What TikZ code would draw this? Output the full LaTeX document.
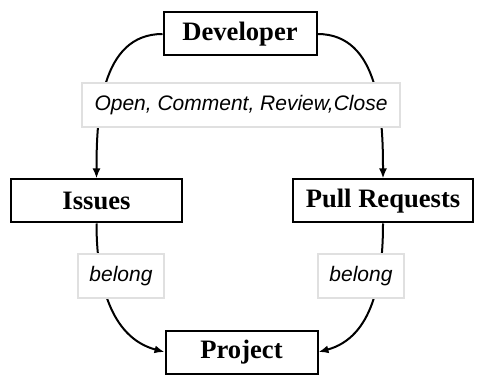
\documentclass[tikz,border=0pt]{standalone}
\usepackage{fontspec}
\setmainfont{Liberation Serif}
\newfontfamily\tagfont{Liberation Sans}
\usetikzlibrary{arrows.meta}

\begin{document}
\begin{tikzpicture}[x=0.5pt, y=0.5pt, line width=1pt,
    entity/.style={draw, fill=white, minimum height=21.5pt, inner sep=0pt,
        font=\fontsize{13.3}{16}\selectfont\bfseries},
    tag/.style={draw=black!12, fill=white, minimum height=22pt, inner sep=0pt,
        font=\fontsize{10.5}{12.6}\selectfont\tagfont\itshape},
    link/.style={-{Latex[length=5pt,width=4pt]}}]

\useasboundingbox (0,0) rectangle (480,374);

% entities
\node[entity, minimum width=76.5pt] (dev)     at (240,340)   {Developer};
\node[entity, minimum width=85.5pt] (issues)  at (96.5,173)  {Issues};
\node[entity, minimum width=90pt]   (pr)      at (383,173)   {Pull Requests};
\node[entity, minimum width=76pt]   (project) at (241.5,22)  {Project};

% connectors
\draw[link] (dev.west) to[out=180, in=90] (issues.north);
\draw[link] (dev.east) to[out=0, in=90] (pr.north);
\draw[link] (issues.south) to[out=-90, in=165] (project.west);
\draw[link] (pr.south) to[out=-90, in=15] (project.east);

% labels
\node[tag, minimum width=159pt] (actions) at (241,269) {Open, Comment, Review,Close};
\node[tag, minimum width=43pt]  (belongl) at (121,98)  {belong};
\node[tag, minimum width=43pt]  (belongr) at (361,98)  {belong};

\end{tikzpicture}
\end{document}
